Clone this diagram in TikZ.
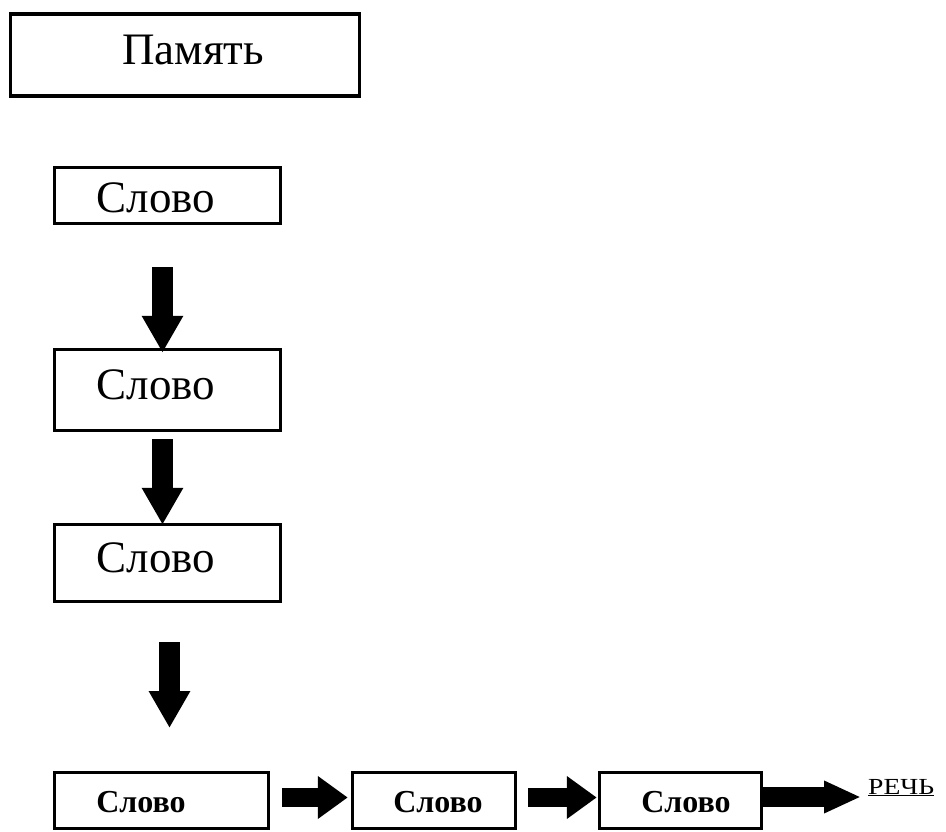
\documentclass[tikz,border=0pt]{standalone}
\usepackage{fontspec}
\setmainfont{Liberation Serif}
\usetikzlibrary{arrows.meta,calc}
\tikzset{
  box/.style={draw=black, line width=3.5pt, inner sep=0pt, rectangle},
  big/.style={font=\fontsize{45}{50}\selectfont, inner sep=0pt},
  small/.style={font=\fontsize{32}{36}\selectfont\bfseries, inner sep=0pt},
  vfat/.style={line width=21pt, -{Triangle[length=37pt,width=39pt]}},
  hfat/.style={line width=19pt, -{Triangle[length=30pt,width=41pt]}},
}
\begin{document}
\begin{tikzpicture}[x=1pt,y=-1pt]
\useasboundingbox (0,0) rectangle (946,832);
% top
\node[box, minimum width=349pt, minimum height=82pt] (mem) at (185,55) {};
\node[big] (memt) at (193,50) {Память};
\node[box, minimum width=226pt, minimum height=56pt] (b1) at (167.5,195.5) {};
\node[big] (t1) at (156,197.5) {Слово};
\node[box, minimum width=226pt, minimum height=81pt] (b2) at (167.5,390) {};
\node[big] (t2) at (156,385) {Слово};
\node[box, minimum width=226pt, minimum height=77pt] (b3) at (167.5,563) {};
\node[big] (t3) at (156,557.5) {Слово};
% bottom row
\node[box, minimum width=214pt, minimum height=56pt] (bA) at (161.5,800.5) {};
\node[small] (tA) at (141,802) {Слово};
\node[box, minimum width=163pt, minimum height=56pt] (bB) at (434,800.5) {};
\node[small] (tB) at (438,802) {Слово};
\node[box, minimum width=162pt, minimum height=56pt] (bC) at (680.5,800.5) {};
\node[small] (tC) at (686,802) {Слово};
\node[font=\fontsize{23}{27}\selectfont, inner sep=0pt, anchor=base west] (speech) at (868,794) {\underline{\scalebox{1.2}[1]{РЕЧЬ}}};
\coordinate (a3end) at (169.5,728);
% arrows
\draw[vfat] ($(b1.south)+(-5,42)$) -- ($(b2.north)+(-5,5)$);
\draw[vfat] ($(b2.south)+(-5,7)$) -- ($(b3.north)+(-5,2)$);
\draw[vfat] ($(b3.south)+(2,39)$) -- (a3end);
\draw[hfat] ($(bA.east)+(12,-3)$) -- ($(bB.west)+(-3,-3)$);
\draw[hfat] ($(bB.east)+(11,-3)$) -- ($(bC.west)+(-1,-3)$);
\draw[line width=20pt, -{Triangle[length=37pt,width=30pt]}] ($(bC.east)+(0,-3.5)$) -- ($(speech.base west)+(-7,3)$);
\end{tikzpicture}
\end{document}
